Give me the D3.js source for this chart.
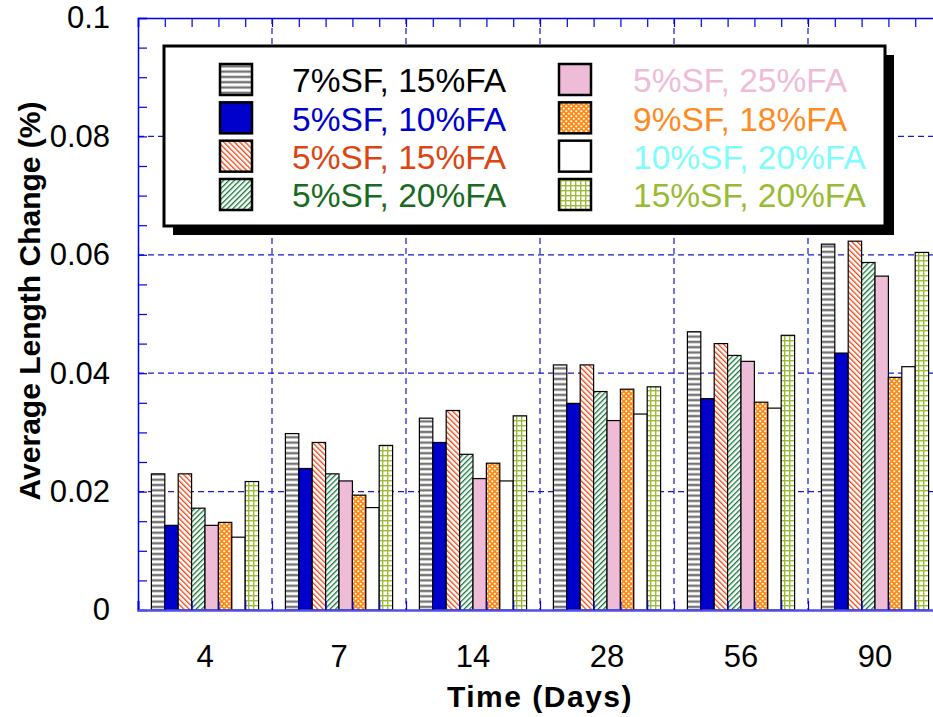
<!DOCTYPE html>
<html>
<head>
<meta charset="utf-8">
<script src="https://cdnjs.cloudflare.com/ajax/libs/d3/7.8.5/d3.min.js"></script>
<style>
  html, body { margin: 0; padding: 0; background: #fff; overflow: hidden; }
  svg { display: block; }
  text { font-family: "Liberation Sans", Arial, sans-serif; }
</style>
</head>
<body>
<script>
// ---------------- DATA ----------------
const categories = ["4", "7", "14", "28", "56", "90"];
const seriesNames = [
  "7%SF, 15%FA", "5%SF, 10%FA", "5%SF, 15%FA", "5%SF, 20%FA",
  "5%SF, 25%FA", "9%SF, 18%FA", "10%SF, 20%FA", "15%SF, 20%FA"
];
// values per series, one per category (4, 7, 14, 28, 56, 90 days)
const s7SF15FA  = [0.0230, 0.0298, 0.0324, 0.0414, 0.0470, 0.0618];
const s5SF10FA  = [0.0143, 0.0239, 0.0283, 0.0349, 0.0357, 0.0434];
const s5SF15FA  = [0.0230, 0.0283, 0.0337, 0.0414, 0.0450, 0.0623];
const s5SF20FA  = [0.0172, 0.0230, 0.0263, 0.0369, 0.0430, 0.0587];
const s5SF25FA  = [0.0143, 0.0218, 0.0222, 0.0320, 0.0420, 0.0564];
const s9SF18FA  = [0.0148, 0.0194, 0.0248, 0.0373, 0.0351, 0.0393];
const s10SF20FA = [0.0123, 0.0173, 0.0218, 0.0331, 0.0341, 0.0411];
const s15SF20FA = [0.0217, 0.0278, 0.0328, 0.0377, 0.0464, 0.0604];
const seriesValues = [s7SF15FA, s5SF10FA, s5SF15FA, s5SF20FA, s5SF25FA, s9SF18FA, s10SF20FA, s15SF20FA];
const yTickValues = [0, 0.02, 0.04, 0.06, 0.08, 0.1];
const yTickLabels = ["0", "0.02", "0.04", "0.06", "0.08", "0.1"];
const yTitle = "Average Length Change (%)";
const xTitle = "Time (Days)";

// ---------------- STYLE ----------------
const textColors = ["#000000", "#0000cc", "#dd4411", "#186b1e", "#efbcd8", "#ff8a1f", "#7ffcfc", "#99bb33"];
const fills = ["url(#pH)", "#0000cc", "url(#pRed)", "url(#pGreen)", "#efbcd8", "url(#pOrange)", "#ffffff", "url(#pOlive)"];

const W = 933, H = 717;
const M = { left: 138, right: 942, top: 18, bottom: 610 };

const svg = d3.select("body").append("svg").attr("width", W).attr("height", H);
const defs = svg.append("defs");

// horizontal gray stripes
const pH = defs.append("pattern").attr("id", "pH").attr("patternUnits", "userSpaceOnUse")
  .attr("width", 6).attr("height", 5.3);
pH.append("rect").attr("width", 6).attr("height", 5.3).attr("fill", "#fff");
pH.append("rect").attr("y", 1.5).attr("width", 6).attr("height", 2.4).attr("fill", "#757575");

function diag(id, color, angle) {
  const p = defs.append("pattern").attr("id", id).attr("patternUnits", "userSpaceOnUse")
    .attr("width", 3.8).attr("height", 10).attr("patternTransform", `rotate(${angle})`);
  p.append("rect").attr("width", 3.8).attr("height", 10).attr("fill", "#fff");
  p.append("rect").attr("x", 0).attr("width", 1.3).attr("height", 10).attr("fill", color);
}
diag("pRed", "#ee4411", -45);
diag("pGreen", "#117733", 45);

const pO = defs.append("pattern").attr("id", "pOrange").attr("patternUnits", "userSpaceOnUse")
  .attr("width", 5).attr("height", 5);
pO.append("rect").attr("width", 5).attr("height", 5).attr("fill", "#ff8811");
pO.append("circle").attr("cx", 1.25).attr("cy", 1.25).attr("r", 1.1).attr("fill", "#fff");
pO.append("circle").attr("cx", 3.75).attr("cy", 3.75).attr("r", 1.1).attr("fill", "#fff");

const pG = defs.append("pattern").attr("id", "pOlive").attr("patternUnits", "userSpaceOnUse")
  .attr("width", 5).attr("height", 5);
pG.append("rect").attr("width", 5).attr("height", 5).attr("fill", "#fff");
pG.append("rect").attr("x", 0).attr("width", 1.4).attr("height", 5).attr("fill", "#9dbb3a");
pG.append("rect").attr("y", 0).attr("width", 5).attr("height", 1.4).attr("fill", "#9dbb3a");

// ---------------- SCALES ----------------
const y = d3.scaleLinear().domain([0, 0.1]).range([M.bottom, M.top]);
const x0 = d3.scaleBand().domain(categories).range([M.left, M.right]).padding(0);
const bw = x0.bandwidth();
const x1 = d3.scaleBand().domain(d3.range(seriesNames.length)).range([bw * 0.1, bw * 0.9]).padding(0);
const xLin = d3.scaleLinear().domain([0, categories.length]).range([M.left, M.right]);

const gridColor = "#1a1acc";
// ---------------- GRID ----------------
const grid = svg.append("g");
grid.selectAll("line.h").data([0.02, 0.04, 0.06, 0.08]).join("line")
  .attr("x1", M.left).attr("x2", M.right)
  .attr("y1", d => y(d)).attr("y2", d => y(d))
  .attr("stroke", gridColor).attr("stroke-width", 1.2).attr("stroke-dasharray", "6,4");
grid.selectAll("line.v").data(categories.slice(1)).join("line")
  .attr("x1", d => x0(d)).attr("x2", d => x0(d))
  .attr("y1", M.top).attr("y2", M.bottom)
  .attr("stroke", gridColor).attr("stroke-width", 1.2).attr("stroke-dasharray", "6,4");

// ---------------- BARS ----------------
const gBars = svg.append("g");
categories.forEach((c, ci) => {
  const g = gBars.append("g").attr("transform", `translate(${x0(c)},0)`);
  g.selectAll("rect").data(seriesValues.map((s, si) => ({ si, v: s[ci] }))).join("rect")
    .attr("x", d => x1(d.si))
    .attr("width", x1.bandwidth())
    .attr("y", d => y(d.v))
    .attr("height", d => y(0) - y(d.v))
    .attr("fill", d => fills[d.si])
    .attr("stroke", "#000").attr("stroke-width", 1.2);
});

// ---------------- AXES ----------------
const axisColor = "#0000ee";
const minorY = d3.range(0, 0.1001, 0.005);
const minorX = d3.range(0, categories.length + 0.001, 0.2);

const leftAx = svg.append("g").attr("transform", `translate(${M.left},0)`)
  .call(d3.axisRight(y).tickValues(minorY).tickSize(9).tickFormat(""));
const rightAx = svg.append("g").attr("transform", `translate(${M.right},0)`)
  .call(d3.axisLeft(y).tickValues(minorY).tickSize(9).tickFormat(""));
const topAx = svg.append("g").attr("transform", `translate(0,${M.top})`)
  .call(d3.axisBottom(xLin).tickValues(minorX).tickSize(9).tickFormat(""));
const botAx = svg.append("g").attr("transform", `translate(0,${M.bottom})`)
  .call(d3.axisTop(xLin).tickValues(minorX).tickSize(9).tickFormat(""));
[leftAx, rightAx, topAx, botAx].forEach(a => {
  a.selectAll("path").attr("stroke", axisColor).attr("stroke-width", 1.5);
  a.selectAll("line").attr("stroke", axisColor).attr("stroke-width", 1.2);
});
botAx.select("path").attr("stroke", "#5050e6").attr("stroke-width", 2.6);

// tick labels
const yLab = svg.append("g").attr("transform", `translate(${M.left},0)`)
  .call(d3.axisLeft(y).tickValues(yTickValues).tickSize(0).tickPadding(28)
    .tickFormat((d, i) => yTickLabels[i]));
yLab.select("path").remove();
yLab.selectAll("text").attr("font-size", 31).attr("fill", "#000")
  .attr("font-family", "'Liberation Sans', Arial, sans-serif");

const xLab = svg.append("g").attr("transform", `translate(0,${M.bottom})`)
  .call(d3.axisBottom(x0).tickSize(0).tickPadding(35));
xLab.select("path").remove();
xLab.selectAll("text").attr("font-size", 31).attr("fill", "#000")
  .attr("font-family", "'Liberation Sans', Arial, sans-serif");

// titles
svg.append("text").attr("transform", `translate(40,301) rotate(-90)`)
  .attr("text-anchor", "middle").attr("font-size", 30).attr("font-weight", "bold")
  .text(yTitle);
svg.append("text").attr("x", (M.left + M.right) / 2).attr("y", 707)
  .attr("text-anchor", "middle").attr("font-size", 30).attr("font-weight", "bold")
  .attr("letter-spacing", 1.5)
  .text(xTitle);

// ---------------- LEGEND ----------------
const L = { x: 164, y: 46, w: 721, h: 180 };
const leg = svg.append("g");
leg.append("rect").attr("x", L.x + 9).attr("y", L.y + 9).attr("width", L.w).attr("height", L.h).attr("fill", "#000");
leg.append("rect").attr("x", L.x).attr("y", L.y).attr("width", L.w).attr("height", L.h)
  .attr("fill", "#fff").attr("stroke", "#000").attr("stroke-width", 3);
const colX = [220, 559];
const textX = [292, 633];
const rowY = d3.scaleLinear().domain([0, 3]).range([64, 179]);
seriesNames.forEach((name, i) => {
  const col = Math.floor(i / 4), row = i % 4;
  leg.append("rect").attr("x", colX[col]).attr("y", rowY(row)).attr("width", 32).attr("height", 31)
    .attr("fill", fills[i]).attr("stroke", "#000").attr("stroke-width", 2.5);
  leg.append("text").attr("x", textX[col]).attr("y", rowY(row) + 28.3)
    .attr("font-size", 33.5).attr("fill", textColors[i]).text(name);
});
</script>
</body>
</html>
